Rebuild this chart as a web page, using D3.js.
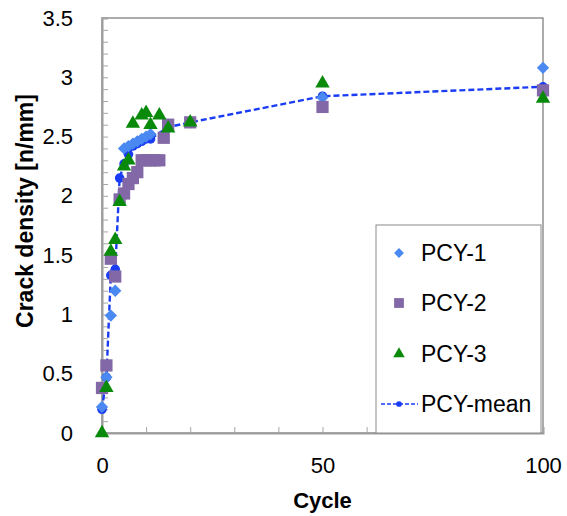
<!DOCTYPE html>
<html>
<head>
<meta charset="utf-8">
<script src="https://cdn.jsdelivr.net/npm/d3@7"></script>
<style>
  body { margin: 0; background: #fff; }
  text { font-family: "Liberation Sans", Arial, sans-serif; fill: #000; }
</style>
</head>
<body>
<svg id="chart" width="567" height="516"></svg>
<script>
// values
const cycles1 = [0, 1, 2, 3, 5, 6, 7, 8, 9, 10, 11, 15, 20, 50, 100];
const pcy1 = [0.22, 0.47, 0.99, 1.2, 2.4, 2.42, 2.44, 2.46, 2.48, 2.5, 2.52, 2.6, 2.62, 2.83, 3.08];

const cycles2 = [0, 1, 2, 3, 4, 5, 6, 7, 8, 9, 10, 11, 12, 13, 14, 15, 20, 50, 100];
const pcy2 = [0.38, 0.57, 1.47, 1.32, 1.97, 2.02, 2.1, 2.15, 2.2, 2.3, 2.3, 2.3, 2.3, 2.3, 2.49, 2.6, 2.62, 2.75, 2.89];

const cycles3 = [0, 1, 2, 3, 4, 5, 6, 7, 9, 10, 11, 13, 15, 20, 50, 100];
const pcy3 = [0, 0.38, 1.53, 1.63, 1.95, 2.25, 2.3, 2.61, 2.68, 2.7, 2.6, 2.68, 2.57, 2.62, 2.95, 2.82];

const cyclesMean = [0, 1, 2, 3, 4, 5, 6, 7, 8, 9, 10, 11, 15, 20, 50, 100];
const pcyMean = [0.2, 0.47, 1.33, 1.38, 2.15, 2.27, 2.35, 2.42, 2.44, 2.46, 2.48, 2.48, 2.58, 2.62, 2.84, 2.92];

const xTickValues = [0, 50, 100];
const yTickValues = [0, 0.5, 1, 1.5, 2, 2.5, 3, 3.5];
const yTickLabels = ["0", "0.5", "1", "1.5", "2", "2.5", "3", "3.5"];
const seriesNames = ["PCY-1", "PCY-2", "PCY-3", "PCY-mean"];

const svg = d3.select("#chart");

const xScale = d3.scaleLinear().domain([0, 100]).range([102, 543]);
const yScale = d3.scaleLinear().domain([0, 3.5]).range([433, 18]);

const colors = {
    diamond: "#4a88f2",
    square: "#8268a6",
    triangle: "#0a8a0a",
    mean: "#1a3cf5"
};

// plot border (top / right)
svg.append("rect")
    .attr("x", xScale(0))
    .attr("y", yScale(3.5))
    .attr("width", xScale(100) - xScale(0))
    .attr("height", yScale(0) - yScale(3.5))
    .attr("fill", "none")
    .attr("stroke", "#767676")
    .attr("stroke-width", 1.2);

// minor ticks, pointing inward
const yMinor = svg.append("g")
    .attr("transform", "translate(" + xScale(0) + ",0)")
    .call(d3.axisLeft(yScale).tickValues(d3.range(0, 36).map(d => d / 10)).tickSize(-6).tickFormat(""));
const xMinor = svg.append("g")
    .attr("transform", "translate(0," + yScale(0) + ")")
    .call(d3.axisBottom(xScale).tickValues(d3.range(0, 101, 10)).tickSize(-6).tickFormat(""));

[yMinor, xMinor].forEach(function(g) {
    g.selectAll(".tick line").attr("stroke", "#a6a6a6").attr("stroke-width", 1);
    g.select(".domain").attr("stroke", "#9c9c9c").attr("stroke-width", 2);
});

// tick labels
const yLabels = svg.append("g")
    .attr("transform", "translate(" + xScale(0) + ",0)")
    .call(d3.axisLeft(yScale).tickValues(yTickValues).tickSize(0).tickPadding(29)
        .tickFormat((d, i) => yTickLabels[i]));
const xLabels = svg.append("g")
    .attr("transform", "translate(0," + yScale(0) + ")")
    .call(d3.axisBottom(xScale).tickValues(xTickValues).tickSize(0).tickPadding(24)
        .tickFormat(d3.format("d")));

[yLabels, xLabels].forEach(function(g) {
    g.select(".domain").remove();
    g.selectAll("text")
        .style("font-family", "'Liberation Sans', Arial, sans-serif")
        .style("font-size", "22px")
        .attr("fill", "#000");
});

// axis titles
svg.append("text")
    .text("Cycle")
    .attr("x", (xScale(0) + xScale(100)) / 2)
    .attr("y", 508)
    .attr("text-anchor", "middle")
    .style("font-size", "22px")
    .style("font-weight", "bold");

svg.append("text")
    .text("Crack density [n/mm]")
    .attr("transform", "translate(33," + 211 + ") rotate(-90)")
    .attr("text-anchor", "middle")
    .style("font-size", "23px")
    .style("font-weight", "bold");

// symbols
const diamondPath = d3.symbol().type(d3.symbolSquare).size(76)();
const squarePath = d3.symbol().type(d3.symbolSquare).size(150)();
const trianglePath = d3.symbol().type(d3.symbolTriangle).size(90)();
const circlePath = d3.symbol().type(d3.symbolCircle).size(72)();

function zip(xs, ys) {
    return xs.map((c, i) => ({ cycle: c, value: ys[i] }));
}

// mean line goes underneath the other markers
const meanData = zip(cyclesMean, pcyMean);
svg.append("path")
    .datum(meanData)
    .attr("fill", "none")
    .attr("stroke", colors.mean)
    .attr("stroke-width", 2.4)
    .style("stroke-dasharray", "6,3")
    .attr("d", d3.line()
        .x(function(d) { return xScale(d.cycle) })
        .y(function(d) { return yScale(d.value) }));

function plotMarkers(data, path, color, rotate) {
    svg.append("g").selectAll("path")
        .data(data).enter()
        .append("path")
        .attr("d", path)
        .attr("fill", color)
        .attr("transform", function(d) {
            return "translate(" + xScale(d.cycle) + "," + yScale(d.value) + ")" + (rotate ? " rotate(45)" : "");
        });
}

plotMarkers(meanData, circlePath, colors.mean, false);
plotMarkers(zip(cycles1, pcy1), diamondPath, colors.diamond, true);
plotMarkers(zip(cycles2, pcy2), squarePath, colors.square, false);
plotMarkers(zip(cycles3, pcy3), trianglePath, colors.triangle, false);

// legend
const legend = svg.append("g");
legend.append("rect")
    .attr("x", 376)
    .attr("y", 225)
    .attr("width", 165)
    .attr("height", 208)
    .attr("fill", "#fff")
    .attr("stroke", "#8a8a8a")
    .attr("stroke-width", 1);

const legendY = [253, 303, 354, 404];
const legendShapes = [
    { path: diamondPath, color: colors.diamond, rotate: true },
    { path: squarePath, color: colors.square, rotate: false },
    { path: trianglePath, color: colors.triangle, rotate: false },
    { path: circlePath, color: colors.mean, rotate: false }
];

seriesNames.forEach(function(name, i) {
    const ly = legendY[i];
    if (i === 3) {
        legend.append("line")
            .attr("x1", 381).attr("x2", 418)
            .attr("y1", ly).attr("y2", ly)
            .attr("stroke", colors.mean)
            .attr("stroke-width", 1.5)
            .style("stroke-dasharray", "4,2");
    }
    const s = legendShapes[i];
    legend.append("path")
        .attr("d", i === 3 ? d3.symbol().type(d3.symbolCircle).size(40)() : s.path)
        .attr("fill", s.color)
        .attr("transform", "translate(399," + ly + ")" + (s.rotate ? " scale(0.8) rotate(45)" : " scale(0.8)"));
    legend.append("text")
        .text(name)
        .attr("x", 421)
        .attr("y", ly + 8)
        .style("font-size", "23px");
});
</script>
</body>
</html>
